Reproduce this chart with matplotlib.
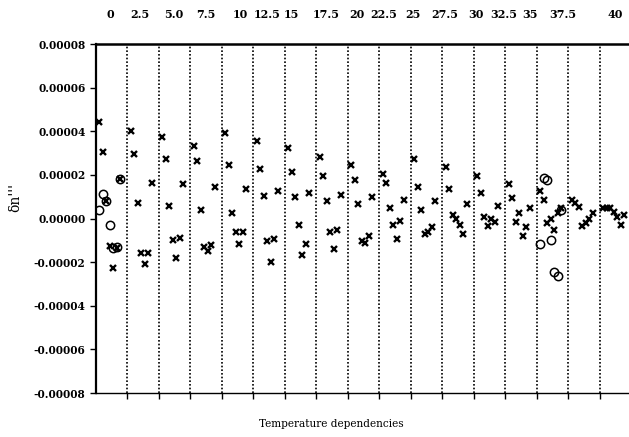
import matplotlib
matplotlib.use("Agg")
import matplotlib.pyplot as plt
import numpy as np

# temperature groups shown along the top
temps = ["0", "2.5", "5.0", "7.5", "10", "12.5", "15", "17.5", "20", "22.5",
         "25", "27.5", "30", "32.5", "35", "37.5", "40"]

# delta n''' residuals, units of 1e-5, seven points per temperature group (crosses)
cross_vals = [
    [4.44, 3.07, 0.82, -1.28, -2.29, -1.33, 1.79],
    [4.03, 2.95, 0.69, -1.60, -2.09, -1.60, 1.65],
    [3.75, 2.73, 0.58, -0.99, -1.80, -0.90, 1.56],
    [3.34, 2.64, 0.40, -1.31, -1.51, -1.20, 1.46],
    [3.94, 2.44, 0.27, -0.63, -1.18, -0.63, 1.36],
    [3.56, 2.26, 1.05, -1.01, -1.98, -0.92, 1.24],
    [3.25, 2.14, 0.99, -0.31, -1.69, -1.18, 1.16],
    [2.84, 1.97, 0.78, -0.63, -1.41, -0.52, 1.07],
    [2.44, 1.75, 0.67, -1.01, -1.13, -0.79, 0.97],
    [2.05, 1.65, 0.47, -0.31, -0.92, -0.11, 0.86],
    [2.75, 1.46, 0.37, -0.70, -0.63, -0.40, 0.78],
    [2.35, 1.37, 0.17, -0.01, -0.32, -0.72, 0.67],
    [1.97, 1.16, 0.05, -0.33, -0.01, -0.14, 0.58],
    [1.57, 0.96, -0.14, 0.27, -0.81, -0.41, 0.47],
    [1.25, 0.86, -0.22, -0.03, -0.52, 0.26, 0.46],
    [0.87, 0.70, 0.55, -0.33, -0.22, -0.02, 0.27],
    [0.50, 0.50, 0.50, 0.32, 0.09, -0.32, 0.17],
]
# second series (open circles), only at 0 and 35
circle_groups = [0, 14]
circle_vals = [
    [0.40, 1.11, 0.82, -0.29, -1.36, -1.31, 1.80],
    [-1.17, 1.86, 1.77, -0.99, -2.46, -2.63, 0.41],
]

SLOT = 9  # width of one temperature group in point-index units
label_x = [4.0, 12.6, 22.1, 31.3, 41.1, 48.8, 55.9, 65.9, 74.5, 82.1,
           90.7, 99.7, 108.6, 116.4, 124.0, 133.5, 148.3]

W, H = 629, 437
fig = plt.figure(figsize=(W / 100, H / 100), dpi=100)
ax = fig.add_axes([96 / W, 1 - 393 / H, 1 - 96 / W, (393 - 44) / H])

for g, vals in enumerate(cross_vals):
    x = g * SLOT + 1 + np.arange(len(vals))
    ax.plot(x, np.array(vals) * 1e-5, ls="none", marker="x", ms=3.8, mew=1.7, color="black")
for g, vals in zip(circle_groups, circle_vals):
    x = g * SLOT + 1 + np.arange(len(vals))
    ax.plot(x, np.array(vals) * 1e-5, ls="none", marker="o", ms=6, mfc="none", mec="black", mew=1.1)

bounds = np.arange(1, len(temps)) * SLOT
for b in bounds:
    ax.axvline(b, color="black", ls=(0, (1, 1.2)), lw=1.2)

ax.set_xlim(0, 152.3)
ax.set_ylim(-8e-5, 8e-5)
ax.set_yticks(np.arange(-8, 9, 2) * 1e-5)
ax.set_yticklabels([f"{v:.5f}" for v in np.arange(-8, 9, 2) * 1e-5])
ax.set_xticks(bounds)
ax.set_xticklabels([])
ax.tick_params(axis="both", direction="out", length=4, width=1, color="black")
for lbl in ax.get_yticklabels():
    lbl.set_fontfamily("DejaVu Serif"); lbl.set_fontweight("bold"); lbl.set_fontsize(7.6)

ax.spines["right"].set_visible(False)
ax.spines["left"].set_linewidth(1.6)
ax.spines["top"].set_linewidth(1.8)
ax.spines["bottom"].set_linewidth(1.0)

for t, lx in zip(temps, label_x):
    ax.text(lx, 1.0 + 30 / 349, t, transform=ax.get_xaxis_transform(), ha="center", va="center",
            family="DejaVu Serif", fontweight="bold", fontsize=8)

fig.text(15 / W, 1 - 197 / H, "δn'''", rotation=90, ha="center", va="center",
         family="DejaVu Serif", fontsize=10)
fig.text(331 / W, 1 - 424 / H, "Temperature dependencies", ha="center", va="center",
         family="DejaVu Serif", fontsize=7.6)

fig.savefig("out.png", dpi=100)
